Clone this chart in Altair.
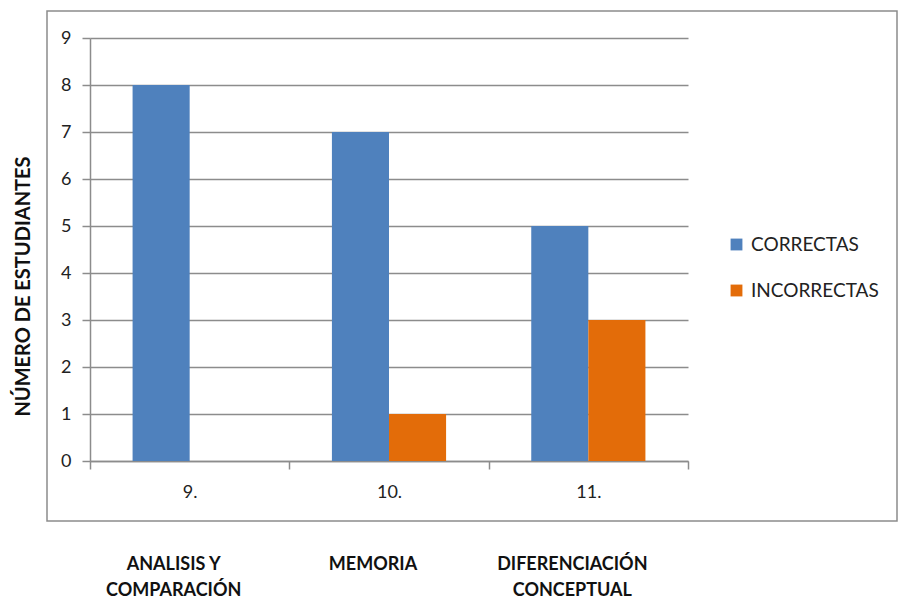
import altair as alt
import pandas as pd

# Survey results per question
preguntas = ["9.", "10.", "11."]
habilidades = ["ANALISIS Y\nCOMPARACIÓN", "MEMORIA", "DIFERENCIACIÓN\nCONCEPTUAL"]
correctas = [8, 7, 5]
incorrectas = [0, 1, 3]
series = ["CORRECTAS", "INCORRECTAS"]
colores = ["#4F81BD", "#E36C09"]
y_ticks = [0, 1, 2, 3, 4, 5, 6, 7, 8, 9]

rows = []
for p, c, i in zip(preguntas, correctas, incorrectas):
    rows.append({"pregunta": p, "serie": series[0], "valor": c})
    rows.append({"pregunta": p, "serie": series[1], "valor": i})
df = pd.DataFrame(rows)
df_hab = pd.DataFrame({"pregunta": preguntas, "habilidad": habilidades})

FONT = "Lato"
GRID = "#8C8C8C"
TXT = "#222222"

x_enc = alt.X(
    "pregunta:N",
    sort=preguntas,
    scale=alt.Scale(paddingInner=0, paddingOuter=0),
    axis=alt.Axis(
        title=None,
        labelAngle=0,
        labelFontSize=18,
        labelFont=FONT,
        labelColor=TXT,
        labelPadding=14,
        tickBand="extent",
        tickSize=8,
        tickColor=GRID,
        domainColor=GRID,
        tickWidth=1.5,
        domainWidth=1.5,
    ),
)

bars = alt.Chart(df).mark_bar().encode(
    x=x_enc,
    xOffset=alt.XOffset(
        "serie:N",
        sort=series,
        scale=alt.Scale(paddingInner=0, paddingOuter=0.746),
    ),
    y=alt.Y(
        "valor:Q",
        scale=alt.Scale(domain=[0, 9], nice=False),
        axis=alt.Axis(
            title="NÚMERO DE ESTUDIANTES",
            titleFont=FONT,
            titleFontSize=20,
            titleFontWeight="bold",
            titleColor="#111111",
            titleX=-67,
            titleY=248,
            titleAngle=270,
            titleAlign="center",
            titleBaseline="middle",
            values=y_ticks,
            labelOverlap=False,
            labelFontSize=18,
            labelFont=FONT,
            labelColor=TXT,
            labelPadding=11,
            tickSize=8,
            tickColor=GRID,
            tickWidth=1.5,
            domainColor=GRID,
            domainWidth=1.5,
            grid=True,
            gridColor=GRID,
            gridWidth=1.5,
        ),
    ),
    color=alt.Color(
        "serie:N",
        sort=series,
        scale=alt.Scale(domain=series, range=colores),
        legend=alt.Legend(
            title=None,
            orient="none",
            legendX=637,
            legendY=197,
            symbolType="square",
            symbolSize=140,
            symbolStrokeWidth=0,
            labelFontSize=19,
            labelFont=FONT,
            labelColor=TXT,
            rowPadding=26,
            labelOffset=5,
        ),
    ),
)

# Skill names written under the chart frame
skills = alt.Chart(df_hab).mark_text(
    font=FONT,
    fontSize=18,
    fontWeight="bold",
    color="#111111",
    baseline="top",
    align="center",
    lineBreak="\n",
    lineHeight=26,
    dx=-16,
).encode(
    x=alt.X("pregunta:N", sort=preguntas),
    y=alt.value(518),
    text="habilidad:N",
)

# Outer frame around the chart
frame = alt.Chart(pd.DataFrame({"k": [0]})).mark_rect(
    fill=None, stroke="#8C8C8C", strokeWidth=1.5
).encode(
    x=alt.value(-43),
    x2=alt.value(807),
    y=alt.value(-27),
    y2=alt.value(483),
)

chart = (
    alt.layer(frame, bars, skills)
    .properties(
        width=598,
        height=423,
        padding={"left": 90, "top": 38, "right": 213, "bottom": 139},
        autosize=alt.AutoSizeParams(type="none"),
        background="white",
    )
    .configure_view(stroke=None)
)

chart.save("out.html", embed_options={"renderer": "svg", "actions": False})
